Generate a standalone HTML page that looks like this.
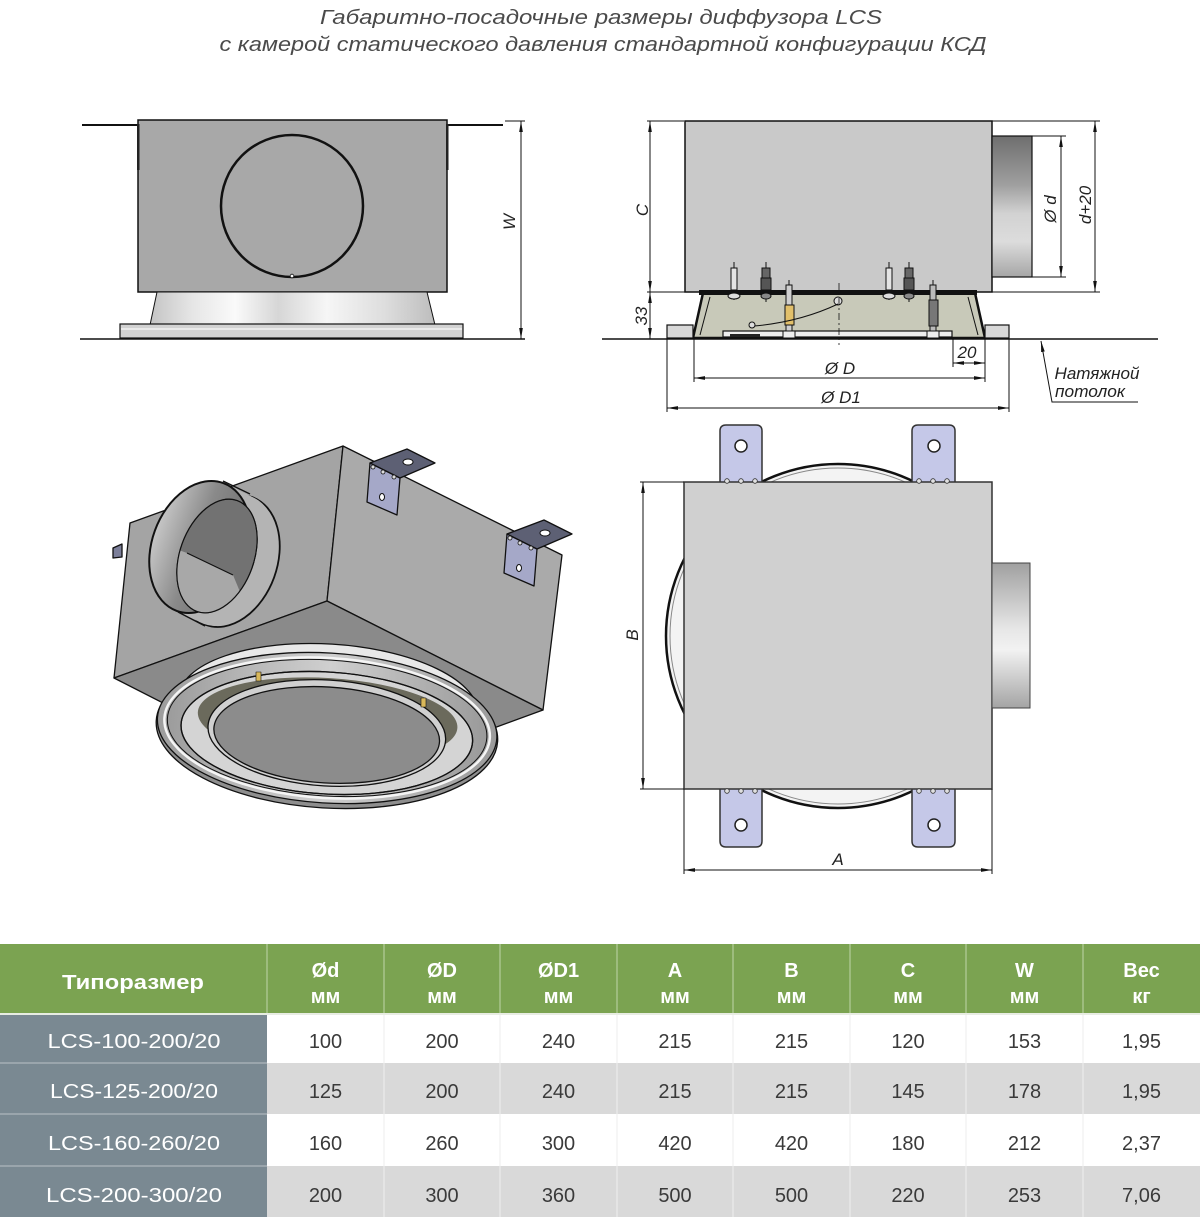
<!DOCTYPE html>
<html><head><meta charset="utf-8"><style>
html,body{margin:0;padding:0;background:#fff;}
svg{display:block;}
</style></head><body>
<svg width="1200" height="1227" viewBox="0 0 1200 1227" xmlns="http://www.w3.org/2000/svg">
<defs>
<marker id="ar" viewBox="0 0 12 4" refX="12" refY="2" markerWidth="11" markerHeight="4" markerUnits="userSpaceOnUse" orient="auto-start-reverse"><path d="M0,0 L12,2 L0,4z" fill="#111"/></marker>
<linearGradient id="cone" x1="0" y1="0" x2="1" y2="0">
<stop offset="0" stop-color="#c4c4c4"/><stop offset="0.15" stop-color="#e6e6e6"/><stop offset="0.3" stop-color="#fafafa"/><stop offset="0.45" stop-color="#d6d6d6"/><stop offset="0.62" stop-color="#f6f6f6"/><stop offset="0.82" stop-color="#dedede"/><stop offset="1" stop-color="#bdbdbd"/>
</linearGradient>
<linearGradient id="spig" x1="0" y1="0" x2="0" y2="1">
<stop offset="0" stop-color="#6e6e6e"/><stop offset="0.35" stop-color="#a0a0a0"/><stop offset="0.55" stop-color="#d2d2d2"/><stop offset="0.75" stop-color="#dcdcdc"/><stop offset="1" stop-color="#a6a6a6"/>
</linearGradient>
<linearGradient id="spig2" x1="0" y1="0" x2="0" y2="1">
<stop offset="0" stop-color="#a0a0a0"/><stop offset="0.45" stop-color="#e6e6e6"/><stop offset="0.6" stop-color="#f2f2f2"/><stop offset="1" stop-color="#a4a4a4"/>
</linearGradient>
<linearGradient id="ring" x1="0" y1="0" x2="1" y2="0">
<stop offset="0" stop-color="#9c9c9c"/><stop offset="0.25" stop-color="#b8b8b8"/><stop offset="0.5" stop-color="#cfcfcf"/><stop offset="0.75" stop-color="#b4b4b4"/><stop offset="1" stop-color="#9a9a9a"/>
</linearGradient>
<linearGradient id="tubeOut" x1="0" y1="0" x2="1" y2="0">
<stop offset="0" stop-color="#8a8a8a"/><stop offset="0.55" stop-color="#9a9a9a"/><stop offset="0.8" stop-color="#cdcdcd"/><stop offset="1" stop-color="#808080"/>
</linearGradient>
<linearGradient id="tubeIn" x1="0" y1="0" x2="1" y2="0">
<stop offset="0" stop-color="#c6c6c6"/><stop offset="0.45" stop-color="#8a8a8a"/><stop offset="1" stop-color="#6a6a6a"/>
</linearGradient>
<clipPath id="innerClip"><ellipse cx="217" cy="556" rx="37" ry="59" transform="rotate(20 217 556)"/></clipPath>
<clipPath id="planClip"><rect x="600" y="400" width="392" height="500"/></clipPath>
</defs>

<!-- Title -->
<g font-family="Liberation Sans, sans-serif" font-style="italic" font-size="20" fill="#4a4a4a" text-anchor="middle">
<text x="601" y="24" textLength="562" lengthAdjust="spacingAndGlyphs">Габаритно-посадочные размеры диффузора LCS</text>
<text x="603" y="51" textLength="767" lengthAdjust="spacingAndGlyphs">с камерой статического давления стандартной конфигурации КСД</text>
</g>

<!-- ============ TOP LEFT VIEW ============ -->
<g stroke="#111" fill="none">
<line x1="82" y1="125" x2="138" y2="125" stroke-width="2"/>
<line x1="447" y1="125" x2="503" y2="125" stroke-width="2"/>
<rect x="138" y="120" width="309" height="172" fill="#a8a8a8" stroke-width="1.5"/>
<rect x="137" y="124" width="2.5" height="46" fill="#222" stroke="none"/>
<rect x="446" y="124" width="2.5" height="46" fill="#222" stroke="none"/>
<circle cx="292" cy="206" r="71" stroke-width="2.5"/>
<circle cx="292" cy="276" r="1.8" fill="#fff" stroke-width="0.8"/>
<path d="M157,292 L427,292 L435,325 L150,325 Z" fill="url(#cone)" stroke-width="1"/>
<rect x="120" y="324" width="343" height="14" fill="#d2d2d2" stroke-width="1.2"/>
<line x1="121" y1="329" x2="462" y2="329" stroke="#f2f2f2" stroke-width="1.5"/>
<line x1="80" y1="339" x2="525" y2="339" stroke-width="1.5"/>
<line x1="505" y1="121" x2="525" y2="121" stroke-width="1"/>
<line x1="521" y1="121" x2="521" y2="339" stroke-width="1" marker-start="url(#ar)" marker-end="url(#ar)"/>
</g>
<text x="0" y="0" transform="translate(515,222) rotate(-90)" font-family="Liberation Sans, sans-serif" font-style="italic" font-size="17" fill="#222" text-anchor="middle">W</text>

<!-- ============ TOP RIGHT VIEW ============ -->
<g stroke="#111" fill="none">
<line x1="647" y1="121" x2="684" y2="121" stroke-width="1"/>
<line x1="992" y1="121" x2="1100" y2="121" stroke-width="1"/>
<line x1="647" y1="292" x2="704" y2="292" stroke-width="1"/>
<line x1="992" y1="292" x2="1100" y2="292" stroke-width="1"/>
<line x1="1032" y1="136" x2="1066" y2="136" stroke-width="1"/>
<line x1="1032" y1="277" x2="1066" y2="277" stroke-width="1"/>
<rect x="685" y="121" width="307" height="171" fill="#c9c9c9" stroke-width="1.5"/>
<rect x="992" y="136" width="40" height="141" fill="url(#spig)" stroke-width="1.2"/>
<path d="M703,293 L975,293 L985,338 L693,338 Z" fill="#c8c9b9" stroke-width="2.5"/>
<path d="M710,297 L700,335" stroke-width="1"/>
<path d="M968,297 L978,335" stroke-width="1"/>
<rect x="667" y="325" width="26" height="13" fill="#d8d8d8" stroke-width="1.2"/>
<rect x="985" y="325" width="24" height="13" fill="#d8d8d8" stroke-width="1.2"/>
<rect x="723" y="331" width="229" height="6" fill="#eeeeee" stroke-width="1.2"/>
<rect x="730" y="334" width="30" height="3" fill="#222" stroke="none"/>
<rect x="699" y="290" width="278" height="5" fill="#111" stroke="none"/>
<g stroke-width="1">
<line x1="734" y1="262" x2="734" y2="300"/><rect x="731" y="268" width="6" height="22" fill="#e4e4e4"/><ellipse cx="734" cy="296" rx="6" ry="3" fill="#ddd"/>
<line x1="889" y1="262" x2="889" y2="300"/><rect x="886" y="268" width="6" height="22" fill="#e4e4e4"/><ellipse cx="889" cy="296" rx="6" ry="3" fill="#ddd"/>
<line x1="766" y1="262" x2="766" y2="302"/><rect x="762" y="268" width="8" height="10" fill="#666"/><rect x="761" y="278" width="10" height="12" fill="#555"/><ellipse cx="766" cy="296" rx="5" ry="3" fill="#888"/>
<line x1="909" y1="262" x2="909" y2="302"/><rect x="905" y="268" width="8" height="10" fill="#666"/><rect x="904" y="278" width="10" height="12" fill="#555"/><ellipse cx="909" cy="296" rx="5" ry="3" fill="#888"/>
<line x1="789" y1="280" x2="789" y2="338"/><rect x="786" y="285" width="6" height="46" fill="#cfcfcf"/><rect x="785" y="305" width="9" height="20" fill="#e2c06a"/><rect x="783" y="331" width="12" height="7" fill="#eee"/>
<line x1="933" y1="280" x2="933" y2="338"/><rect x="930" y="285" width="6" height="46" fill="#bbb"/><rect x="929" y="300" width="9" height="26" fill="#777"/><rect x="927" y="331" width="12" height="7" fill="#eee"/>
<circle cx="838" cy="301" r="4" fill="#ddd"/>
<path d="M838,304 Q800,322 754,326" stroke-width="1"/>
<circle cx="752" cy="325" r="3" fill="#ddd"/>
</g>
<line x1="839" y1="283" x2="839" y2="345" stroke-width="0.8" stroke-dasharray="7 3 2 3"/>
<line x1="602" y1="339" x2="1158" y2="339" stroke-width="1.5"/>
<line x1="650" y1="121" x2="650" y2="292" stroke-width="1" marker-start="url(#ar)" marker-end="url(#ar)"/>
<line x1="650" y1="292" x2="650" y2="339" stroke-width="1" marker-start="url(#ar)" marker-end="url(#ar)"/>
<line x1="1061" y1="136" x2="1061" y2="277" stroke-width="1" marker-start="url(#ar)" marker-end="url(#ar)"/>
<line x1="1095" y1="121" x2="1095" y2="292" stroke-width="1" marker-start="url(#ar)" marker-end="url(#ar)"/>
<line x1="694" y1="339" x2="694" y2="382" stroke-width="1"/>
<line x1="985" y1="339" x2="985" y2="382" stroke-width="1"/>
<line x1="667" y1="339" x2="667" y2="412" stroke-width="1"/>
<line x1="1009" y1="339" x2="1009" y2="412" stroke-width="1"/>
<line x1="953" y1="337" x2="953" y2="367" stroke-width="1"/>
<line x1="694" y1="378" x2="985" y2="378" stroke-width="1" marker-start="url(#ar)" marker-end="url(#ar)"/>
<line x1="667" y1="408" x2="1009" y2="408" stroke-width="1" marker-start="url(#ar)" marker-end="url(#ar)"/>
<line x1="953" y1="363" x2="985" y2="363" stroke-width="1" marker-start="url(#ar)" marker-end="url(#ar)"/>
<path d="M1041,341 L1052,402 L1138,402" stroke-width="1" marker-start="url(#ar)"/>
</g>
<g font-family="Liberation Sans, sans-serif" font-style="italic" font-size="17" fill="#222" text-anchor="middle">
<text transform="translate(648,210) rotate(-90)">C</text>
<text transform="translate(647,316) rotate(-90)">33</text>
<text transform="translate(1056,209) rotate(-90)">Ø d</text>
<text transform="translate(1091,205) rotate(-90)">d+20</text>
<text x="840" y="374">Ø D</text>
<text x="841" y="403">Ø D1</text>
<text x="967" y="358">20</text>
<text x="1097" y="379" textLength="85" lengthAdjust="spacingAndGlyphs">Натяжной</text>
<text x="1090" y="397" textLength="70" lengthAdjust="spacingAndGlyphs">потолок</text>
</g>

<!-- ============ ISOMETRIC VIEW ============ -->
<g stroke="#111" stroke-width="1.3" stroke-linejoin="round">
<polygon points="113,548 122,544 122,557 113,558" fill="#7c7f9a"/>
<polygon points="343,446 130,523 114,678 327,601" fill="#a4a4a4"/>
<polygon points="343,446 562,555 543,710 327,601" fill="#aaaaaa"/>
<polygon points="327,601 114,678 330,788 543,710" fill="#8a8a8a"/>
<!-- spigot: back outline -->
<ellipse cx="229" cy="561" rx="48" ry="68" transform="rotate(20 229 561)" fill="#b4b4b4" stroke-width="1.8"/>
<g stroke="none" fill="#b4b4b4">
<ellipse cx="227" cy="560" rx="48" ry="68" transform="rotate(20 227 560)"/>
<ellipse cx="223" cy="558" rx="48" ry="68" transform="rotate(20 223 558)"/>
<ellipse cx="219" cy="556" rx="48" ry="68" transform="rotate(20 219 556)"/>
<ellipse cx="214" cy="554" rx="48" ry="68" transform="rotate(20 214 554)"/>
<ellipse cx="209" cy="551" rx="48" ry="68" transform="rotate(20 209 551)"/>
<ellipse cx="204" cy="549" rx="48" ry="68" transform="rotate(20 204 549)"/>
</g>
<line x1="223" y1="481" x2="250" y2="494" stroke-width="1.3"/>
<line x1="178" y1="612" x2="205" y2="626" stroke-width="1.3"/>
<ellipse cx="200" cy="547" rx="48" ry="68" transform="rotate(20 200 547)" fill="url(#tubeIn)" stroke-width="2"/>
<ellipse cx="217" cy="556" rx="37" ry="59" transform="rotate(20 217 556)" fill="#727272" stroke-width="1"/>
<g clip-path="url(#innerClip)">
<polygon points="150,540 187,553 233,575 260,640 150,640" fill="#a8a8a8" stroke="none"/>
</g>
<ellipse cx="217" cy="556" rx="37" ry="59" transform="rotate(20 217 556)" fill="none" stroke-width="1.2"/>
<line x1="187" y1="553" x2="233" y2="575" stroke-width="1.2"/>
<!-- brackets -->
<polygon points="370,463 400,478 397,515 367,502" fill="#a5a8c8"/>
<polygon points="370,463 407,449 435,463 400,478" fill="#5d6074"/>
<ellipse cx="408" cy="462" rx="5" ry="3" fill="#fff" stroke-width="1"/>
<ellipse cx="382" cy="497" rx="2.5" ry="3.5" fill="#fff" stroke-width="1"/>
<circle cx="373" cy="467" r="2" fill="#ddd" stroke-width="0.8"/><circle cx="383" cy="472" r="2" fill="#ddd" stroke-width="0.8"/><circle cx="394" cy="477" r="2" fill="#ddd" stroke-width="0.8"/>
<polygon points="507,534 537,549 534,586 504,573" fill="#a5a8c8"/>
<polygon points="507,534 544,520 572,534 537,549" fill="#5d6074"/>
<ellipse cx="545" cy="533" rx="5" ry="3" fill="#fff" stroke-width="1"/>
<ellipse cx="519" cy="568" rx="2.5" ry="3.5" fill="#fff" stroke-width="1"/>
<circle cx="510" cy="538" r="2" fill="#ddd" stroke-width="0.8"/><circle cx="520" cy="543" r="2" fill="#ddd" stroke-width="0.8"/><circle cx="531" cy="548" r="2" fill="#ddd" stroke-width="0.8"/>
<!-- diffuser ring -->
<g transform="rotate(3.5 327 730)">
<ellipse cx="327" cy="706" rx="150" ry="62" fill="#e8e8e8"/>
<ellipse cx="327" cy="731" rx="171" ry="77" fill="#8e8e8e"/>
<ellipse cx="327" cy="728" rx="170" ry="75" fill="url(#ring)"/>
<ellipse cx="327" cy="728" rx="163" ry="70" fill="none" stroke="#f5f5f5" stroke-width="2.5"/>
<ellipse cx="327" cy="728" rx="160" ry="68" fill="url(#ring)" stroke-width="1"/>
<ellipse cx="327" cy="733" rx="146" ry="61" fill="#d4d4d4"/>
<ellipse cx="327" cy="720" rx="130" ry="42" fill="#6b6a5c" stroke="none"/>
<ellipse cx="327" cy="733" rx="146" ry="61" fill="none"/>
<ellipse cx="327" cy="733" rx="119" ry="53" fill="#d0d0d0"/>
<ellipse cx="327" cy="735" rx="113" ry="48" fill="#8c8c8c"/>
</g>
<rect x="256" y="672" width="5" height="9" fill="#d9b85a" stroke-width="0.6"/>
<rect x="421" y="698" width="5" height="9" fill="#d9b85a" stroke-width="0.6"/>
</g>

<!-- ============ BOTTOM RIGHT (PLAN) VIEW ============ -->
<g stroke="#111" fill="none">
<g clip-path="url(#planClip)">
<circle cx="838" cy="636" r="172" fill="#f3f3f3" stroke-width="2.5"/>
<circle cx="838" cy="636" r="168" stroke="#888" stroke-width="1"/>
</g>
<g fill="#c5c8e8" stroke="#333" stroke-width="1.5">
<path d="M720,487 L720,431 Q720,425 726,425 L756,425 Q762,425 762,431 L762,487 Z"/>
<path d="M912,487 L912,431 Q912,425 918,425 L949,425 Q955,425 955,431 L955,487 Z"/>
<path d="M720,784 L720,841 Q720,847 726,847 L756,847 Q762,847 762,841 L762,784 Z"/>
<path d="M912,784 L912,841 Q912,847 918,847 L949,847 Q955,847 955,841 L955,784 Z"/>
</g>
<g fill="#fff" stroke="#222" stroke-width="1.5">
<circle cx="741" cy="446" r="6"/><circle cx="934" cy="446" r="6"/>
<circle cx="741" cy="825" r="6"/><circle cx="934" cy="825" r="6"/>
</g>
<rect x="684" y="482" width="308" height="307" fill="#d0d0d0" stroke="#333" stroke-width="1.5"/>
<g fill="#e0e0e0" stroke="#333" stroke-width="0.8">
<circle cx="727" cy="481" r="2.3"/><circle cx="741" cy="481" r="2.3"/><circle cx="755" cy="481" r="2.3"/>
<circle cx="919" cy="481" r="2.3"/><circle cx="933" cy="481" r="2.3"/><circle cx="947" cy="481" r="2.3"/>
<circle cx="727" cy="791" r="2.3"/><circle cx="741" cy="791" r="2.3"/><circle cx="755" cy="791" r="2.3"/>
<circle cx="919" cy="791" r="2.3"/><circle cx="933" cy="791" r="2.3"/><circle cx="947" cy="791" r="2.3"/>
</g>
<rect x="992" y="563" width="38" height="145" fill="url(#spig2)" stroke="#444" stroke-width="1"/>
<line x1="640" y1="482" x2="684" y2="482" stroke-width="1"/>
<line x1="640" y1="789" x2="684" y2="789" stroke-width="1"/>
<line x1="643" y1="482" x2="643" y2="789" stroke-width="1" marker-start="url(#ar)" marker-end="url(#ar)"/>
<line x1="684" y1="789" x2="684" y2="874" stroke-width="1"/>
<line x1="992" y1="789" x2="992" y2="874" stroke-width="1"/>
<line x1="684" y1="870" x2="992" y2="870" stroke-width="1" marker-start="url(#ar)" marker-end="url(#ar)"/>
</g>
<g font-family="Liberation Sans, sans-serif" font-style="italic" font-size="17" fill="#222" text-anchor="middle">
<text transform="translate(638,635) rotate(-90)">B</text>
<text x="838" y="865">A</text>
</g>

<!-- ============ TABLE ============ -->
<rect x="0" y="944" width="1200" height="70" fill="#7ba351"/>
<rect x="0" y="1014" width="267" height="203" fill="#7a8992"/>
<rect x="267" y="1014" width="933" height="49" fill="#ffffff"/>
<rect x="267" y="1063" width="933" height="51" fill="#d9d9d9"/>
<rect x="267" y="1114" width="933" height="52" fill="#ffffff"/>
<rect x="267" y="1166" width="933" height="51" fill="#d9d9d9"/>
<g stroke="#a9c48c" stroke-width="1.5">
<line x1="267" y1="944" x2="267" y2="1014"/><line x1="384" y1="944" x2="384" y2="1014"/><line x1="500" y1="944" x2="500" y2="1014"/><line x1="617" y1="944" x2="617" y2="1014"/><line x1="733" y1="944" x2="733" y2="1014"/><line x1="850" y1="944" x2="850" y2="1014"/><line x1="966" y1="944" x2="966" y2="1014"/><line x1="1083" y1="944" x2="1083" y2="1014"/>
</g>
<g stroke="#eeeeee" stroke-width="1">
<line x1="384" y1="1014" x2="384" y2="1217"/><line x1="500" y1="1014" x2="500" y2="1217"/><line x1="617" y1="1014" x2="617" y2="1217"/><line x1="733" y1="1014" x2="733" y2="1217"/><line x1="850" y1="1014" x2="850" y2="1217"/><line x1="966" y1="1014" x2="966" y2="1217"/><line x1="1083" y1="1014" x2="1083" y2="1217"/>
</g>
<line x1="0" y1="1014" x2="1200" y2="1014" stroke="#e8ede3" stroke-width="2"/>
<g stroke="#9aa5ac" stroke-width="2">
<line x1="0" y1="1063" x2="267" y2="1063"/><line x1="0" y1="1114" x2="267" y2="1114"/><line x1="0" y1="1166" x2="267" y2="1166"/>
</g>
<g font-family="Liberation Sans, sans-serif" font-weight="bold" font-size="20" fill="#ffffff" text-anchor="middle">
<text x="133" y="989" textLength="142" lengthAdjust="spacingAndGlyphs">Типоразмер</text>
<text x="325.5" y="977">Ød</text><text x="325.5" y="1003">мм</text>
<text x="442" y="977">ØD</text><text x="442" y="1003">мм</text>
<text x="558.5" y="977">ØD1</text><text x="558.5" y="1003">мм</text>
<text x="675" y="977">A</text><text x="675" y="1003">мм</text>
<text x="791.5" y="977">B</text><text x="791.5" y="1003">мм</text>
<text x="908" y="977">C</text><text x="908" y="1003">мм</text>
<text x="1024.5" y="977">W</text><text x="1024.5" y="1003">мм</text>
<text x="1141.5" y="977">Вес</text><text x="1141.5" y="1003">кг</text>
</g>
<g font-family="Liberation Sans, sans-serif" font-size="20" fill="#ffffff" text-anchor="middle">
<text x="134" y="1048" textLength="173" lengthAdjust="spacingAndGlyphs">LCS-100-200/20</text>
<text x="134" y="1098" textLength="168" lengthAdjust="spacingAndGlyphs">LCS-125-200/20</text>
<text x="134" y="1150" textLength="172" lengthAdjust="spacingAndGlyphs">LCS-160-260/20</text>
<text x="134" y="1202" textLength="176" lengthAdjust="spacingAndGlyphs">LCS-200-300/20</text>
</g>
<g font-family="Liberation Sans, sans-serif" font-size="20" fill="#3a3a3a" text-anchor="middle">
<text x="325.5" y="1048">100</text><text x="442" y="1048">200</text><text x="558.5" y="1048">240</text><text x="675" y="1048">215</text><text x="791.5" y="1048">215</text><text x="908" y="1048">120</text><text x="1024.5" y="1048">153</text><text x="1141.5" y="1048">1,95</text>
<text x="325.5" y="1098">125</text><text x="442" y="1098">200</text><text x="558.5" y="1098">240</text><text x="675" y="1098">215</text><text x="791.5" y="1098">215</text><text x="908" y="1098">145</text><text x="1024.5" y="1098">178</text><text x="1141.5" y="1098">1,95</text>
<text x="325.5" y="1150">160</text><text x="442" y="1150">260</text><text x="558.5" y="1150">300</text><text x="675" y="1150">420</text><text x="791.5" y="1150">420</text><text x="908" y="1150">180</text><text x="1024.5" y="1150">212</text><text x="1141.5" y="1150">2,37</text>
<text x="325.5" y="1202">200</text><text x="442" y="1202">300</text><text x="558.5" y="1202">360</text><text x="675" y="1202">500</text><text x="791.5" y="1202">500</text><text x="908" y="1202">220</text><text x="1024.5" y="1202">253</text><text x="1141.5" y="1202">7,06</text>
</g>
</svg>
</body></html>
